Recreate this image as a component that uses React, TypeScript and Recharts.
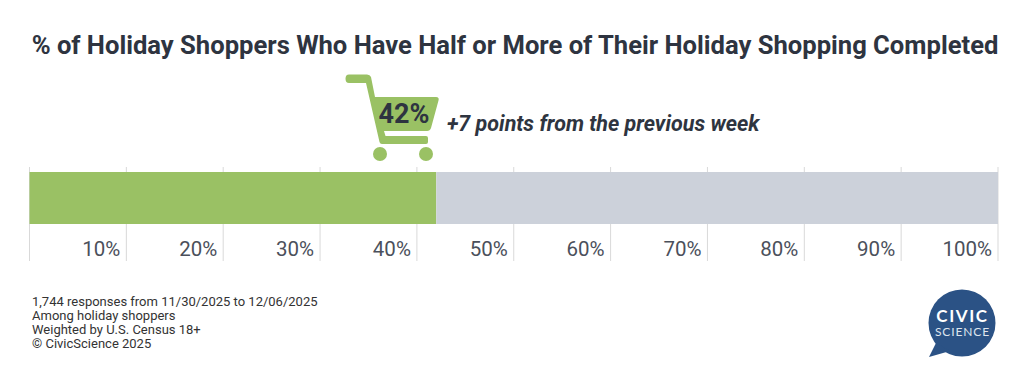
import React from "react";
import { BarChart, Bar, XAxis, YAxis, CartesianGrid } from "recharts";

const TITLE = "% of Holiday Shoppers Who Have Half or More of Their Holiday Shopping Completed";
const HEADLINE_VALUE = "42%";
const HEADLINE_NOTE = "+7 points from the previous week";
const FOOTNOTES = [
  "1,744 responses from 11/30/2025 to 12/06/2025",
  "Among holiday shoppers",
  "Weighted by U.S. Census 18+",
  "© CivicScience 2025",
];
const CATEGORIES = ["Half or more completed"];
const COMPLETED = [42];
const REMAINING = [58];
const TICKS = [0, 10, 20, 30, 40, 50, 60, 70, 80, 90, 100];
const rows = CATEGORIES.map((name, i) => ({ name, completed: COMPLETED[i], remaining: REMAINING[i] }));

const GREEN = "#9ac164";
const GREY = "#ccd1da";
const INK = "#2e3440";
const FONT = "Roboto, sans-serif";

const AxisTick = (props: any) => {
  const v = props.payload.value;
  if (v === 0) return <g />;
  return (
    <text x={props.x - 6} y={256} textAnchor="end" fontFamily={FONT} fontSize={20.5} fill="#4b505b">
      {v}%
    </text>
  );
};

const GridLine = (props: any) => (
  <line x1={props.x1} x2={props.x2} y1={props.y1 - 5} y2={props.y2 + 37} stroke="#d9d9d9" strokeWidth={1} />
);

export default function App() {
  return (
    <div style={{ position: "absolute", left: 0, top: 0, width: 1024, height: 380, background: "#fff" }}>
      <BarChart
        width={1024}
        height={380}
        data={rows}
        layout="vertical"
        barCategoryGap={0}
        margin={{ top: 172, right: 26, bottom: 126, left: 29.5 }}
      >
        <CartesianGrid horizontal={false} vertical={GridLine} />
        <XAxis type="number" domain={[0, 100]} ticks={TICKS} interval={0} height={30} axisLine={false} tickLine={false} tick={AxisTick} />
        <YAxis type="category" dataKey="name" hide />
        <Bar dataKey="completed" stackId="a" fill={GREEN} isAnimationActive={false} />
        <Bar dataKey="remaining" stackId="a" fill={GREY} isAnimationActive={false} />

        <text x={515} y={54} textAnchor="middle" fontFamily={FONT} fontWeight={700} fontSize={25.6} fill={INK}>
          {TITLE}
        </text>

        <g fill={GREEN}>
          <path d="M349 74.5 H367 Q370 74.5 371 77 L375 97 H436 Q439.5 97 438.5 100.5 L431 128 Q430 131 427 131 H384 L385.5 136 H426 Q428 136 428 138 V142 Q428 144 426 144 H382 Q380 144 379.5 142 L366 83 H349 Q345.5 83 345.5 78.75 Q345.5 74.5 349 74.5 Z" />
          <circle cx={380} cy={154} r={7} />
          <circle cx={426} cy={154} r={7} />
        </g>
        <text x={404} y={123} textAnchor="middle" fontFamily={FONT} fontWeight={700} fontSize={27} fill={INK}>
          {HEADLINE_VALUE}
        </text>
        <text x={447} y={131} fontFamily={FONT} fontWeight={700} fontStyle="italic" fontSize={21.5} fill={INK}>
          {HEADLINE_NOTE}
        </text>

        {FOOTNOTES.map((line, i) => (
          <text key={line} x={32} y={305.5 + i * 14.3} fontFamily={FONT} fontSize={13} fill="#333">
            {line}
          </text>
        ))}

        <circle cx={962} cy={323} r={33.5} fill="#2b5285" />
        <path d="M936 343 L929 357 L950 351 Z" fill="#2b5285" />
        <text x={962.5} y={322} textAnchor="middle" fontFamily="Lato, sans-serif" fontWeight={700} fontSize={17} letterSpacing={1.6} fill="#fff">
          CIVIC
        </text>
        <text x={962.5} y={336} textAnchor="middle" fontFamily="Lato, sans-serif" fontSize={12} letterSpacing={0.9} fill="#dfe5ee">
          SCIENCE
        </text>
      </BarChart>
    </div>
  );
}
